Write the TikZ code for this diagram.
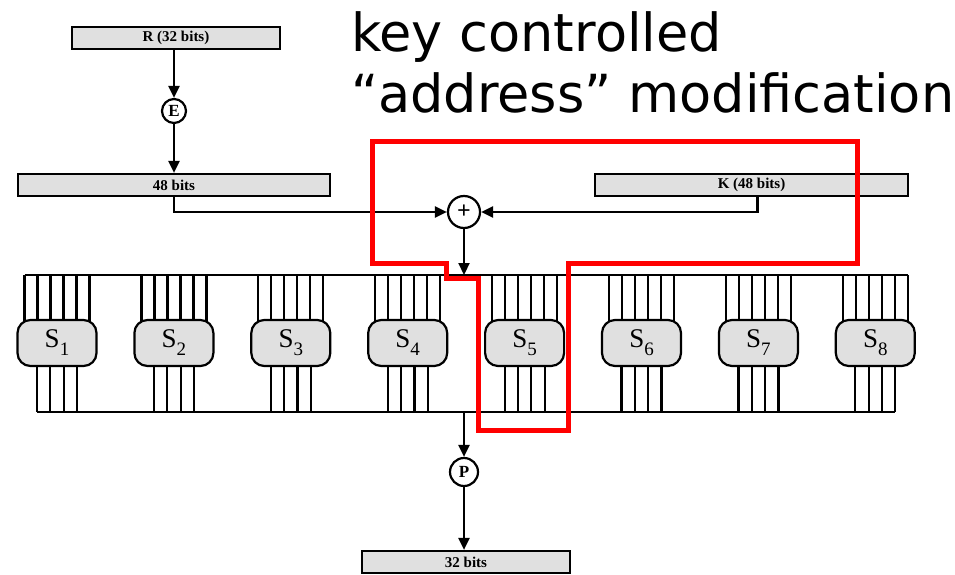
\documentclass[tikz,border=0pt]{standalone}
\usepackage{fontspec}
\setmainfont{Liberation Serif}
\newfontfamily\notefont{DejaVu Sans}
\definecolor{boxgray}{RGB}{224,224,224}
\definecolor{keyred}{RGB}{255,0,0}
\usetikzlibrary{arrows.meta,calc}

\begin{document}
\begin{tikzpicture}[x=1pt,y=-1pt,
    line width=2.2pt,
    >={Triangle[length=12pt,width=11pt]},
    bitbox/.style={draw, line width=2.2pt, fill=boxgray, minimum height=22pt, inner sep=0pt,
                   font=\fontsize{15}{17}\selectfont\bfseries},
    perm/.style={draw, line width=2.2pt, circle, fill=white, inner sep=0pt,
                 font=\fontsize{17}{19}\selectfont\bfseries},
    sbox/.style={draw, line width=2.2pt, fill=boxgray, rounded corners=13pt, minimum width=79pt,
                 minimum height=46pt, inner sep=0pt, font=\fontsize{27}{30}\selectfont},
    note/.style={anchor=base west, inner sep=0pt,
                 font=\notefont\fontsize{52.5}{60}\selectfont}]
  \useasboundingbox (0,0) rectangle (955,575);

  % expansion of R and the key addition
  \node[bitbox, minimum width=208pt] (rhalf) at (176,38) {R (32 bits)};
  \node[perm, minimum size=24pt] (E) at (174,111) {E};
  \node[bitbox, minimum width=312pt] (exp) at (174,185) {48 bits};
  \node[bitbox, minimum width=313pt] (key) at (751.5,185) {K (48 bits)};
  \node[perm, minimum size=32pt, font=\fontsize{24}{24}\selectfont\bfseries] (xor) at (464,212) {+};
  \draw[->] (rhalf.south -| E) -- (E);
  \draw[->] (E) -- (exp);
  \draw[->] (exp.south) |- (xor.west);
  \draw[->] ([xshift=6pt]key.south) |- (xor.east);

  % S-boxes: 6 wires in, 4 wires out
  \foreach \i in {1,...,8} {
    \pgfmathsetmacro\sx{57+116.9*(\i-1)}
    \foreach \dx in {-32.5,-19.5,-6.5,6.5,19.5,32.5}
      \draw[line width=2.2pt] (\sx+\dx,275) -- (\sx+\dx,343);
    \foreach \dx in {-20,-6.7,6.7,20}
      \draw[line width=2.2pt] (\sx+\dx,343) -- (\sx+\dx,412);
    \node[sbox] (s\i) at (\sx,343)
      {S\raisebox{-.3em}{\fontsize{19}{19}\selectfont\i}};
  }
  \draw ($(s1.center)+(-32.5,-68)$) -- ($(s8.center)+(32.5,-68)$);
  \draw ($(s1.center)+(-20,69)$) -- ($(s8.center)+(20,69)$);
  \coordinate (topbus) at (464,275);
  \coordinate (botbus) at (464,412);
  \draw[->] (xor) -- (topbus);

  % permutation and output
  \node[perm, minimum size=28pt] (P) at (464,472) {P};
  \node[bitbox, minimum width=208pt] (out) at (466,562) {32 bits};
  \draw[->] (botbus) -- (P);
  \draw[->] (P) -- (P |- out.north);

  % key path outline
  \draw[keyred, line width=5pt] (372,141) -- (857,141) -- (857,263) -- (568,263)
    -- (568,430) -- (478,430) -- (478,278) -- (446,278) -- (446,263)
    -- (372,263) -- cycle;

  \node[note] (note1) at (350,52) {key controlled};
  \node[note] (note2) at (350,113) {“address” modification};
\end{tikzpicture}
\end{document}
